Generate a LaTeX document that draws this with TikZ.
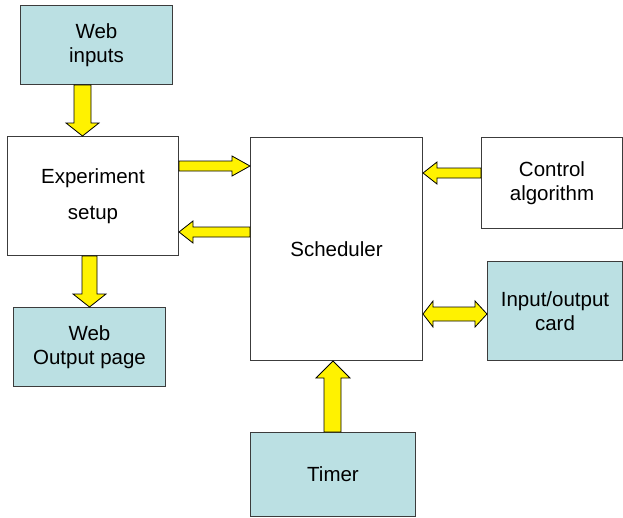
\documentclass[tikz,border=0pt]{standalone}
\usepackage{fontspec}
\setmainfont{Liberation Sans}
\definecolor{boxteal}{RGB}{187,224,227}
\definecolor{boxline}{RGB}{60,60,60}
\tikzset{
  box/.style={draw=boxline, line width=1pt, fill=white, anchor=north west, align=center,
    font=\fontsize{20.5}{24.5}\selectfont, inner sep=0pt},
  tealbox/.style={box, fill=boxteal},
  blockarrow/.style={draw=black, line width=0.8pt, fill=yellow, line join=miter}
}
\begin{document}
\begin{tikzpicture}[x=1pt,y=-1pt]
\useasboundingbox (0,0) rectangle (623,517);
% boxes
\node[tealbox, minimum width=152, minimum height=79] (webin) at (20,5) {Web\\inputs};
\node[box, minimum width=171, minimum height=119] (expt) at (7,136) {Experiment\\[12pt]setup};
\node[box, minimum width=172, minimum height=223] (sched) at (250,137) {Scheduler};
\node[box, minimum width=141, minimum height=91] (ctrl) at (481,137) {Control\\algorithm};
\node[tealbox, minimum width=135, minimum height=99] (iocard) at (487,261) {Input/output\\card};
\node[tealbox, minimum width=152, minimum height=79] (webout) at (13,307) {Web\\Output page};
\node[tealbox, minimum width=165, minimum height=84] (timer) at (250,432) {Timer};
% block arrows
\draw[blockarrow] (74,0 |- webin.south) -- (74,123) -- (66,123) -- (82.5,0 |- expt.north)
    -- (99,123) -- (91,123) -- (91,0 |- webin.south) -- cycle;
\draw[blockarrow] (expt.east |- 0,161) -- (232,161) -- (232,156) -- (sched.west |- 0,166)
    -- (232,176) -- (232,171) -- (expt.east |- 0,171) -- cycle;
\draw[blockarrow] (sched.west |- 0,227) -- (193,227) -- (193,221) -- (expt.east |- 0,232)
    -- (193,243) -- (193,237) -- (sched.west |- 0,237) -- cycle;
\draw[blockarrow] (ctrl.west |- 0,168) -- (437,168) -- (437,162) -- (sched.east |- 0,173)
    -- (437,184) -- (437,178) -- (ctrl.west |- 0,178) -- cycle;
\draw[blockarrow] (sched.east |- 0,314) -- (433,301) -- (433,307) -- (475,307) -- (475,301)
    -- (iocard.west |- 0,314) -- (475,327) -- (475,321) -- (433,321) -- (433,327) -- cycle;
\draw[blockarrow] (82,0 |- expt.south) -- (82,294) -- (73,294) -- (89.5,0 |- webout.north)
    -- (106,294) -- (97,294) -- (97,0 |- expt.south) -- cycle;
\draw[blockarrow] (324,0 |- timer.north) -- (324,378) -- (316,378) -- (333,0 |- sched.south)
    -- (350,378) -- (341,378) -- (341,0 |- timer.north) -- cycle;
\end{tikzpicture}
\end{document}
